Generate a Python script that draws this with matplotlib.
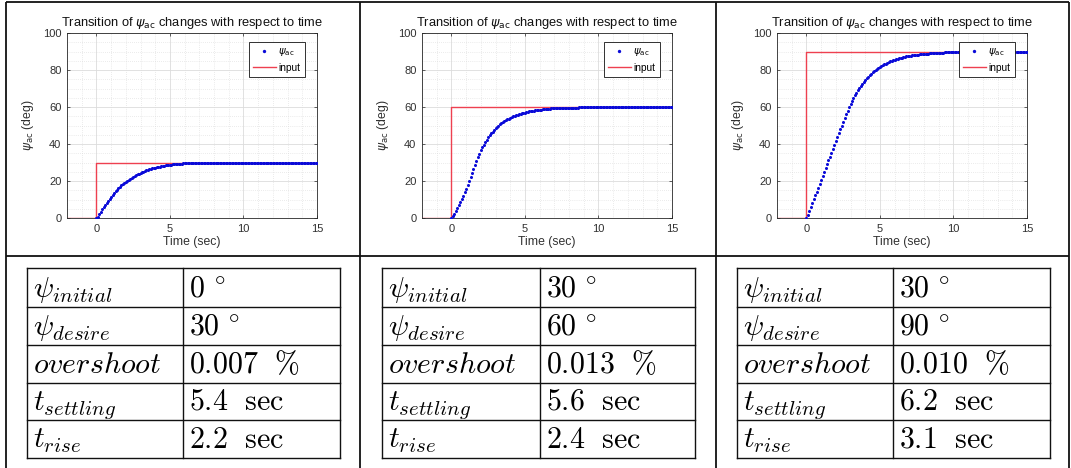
import numpy as np
import matplotlib
matplotlib.use("Agg")
import matplotlib.pyplot as plt

# ---------------- data ----------------
sample_step = 0.1  # s, response samples start at t = 0
input_time = [-2, 0, 0, 15]

psi_ac_1 = [0.0, 0.8, 2.0, 3.3, 4.6, 5.9, 7.1, 8.3, 9.4, 10.5,
            11.6, 12.6, 13.5, 14.4, 15.3, 16.1, 16.9, 17.6, 18.3, 19.0,
            19.6, 20.2, 20.8, 21.3, 21.8, 22.3, 22.8, 23.2, 23.6, 24.0,
            24.4, 24.8, 25.1, 25.4, 25.7, 26.0, 26.3, 26.5, 26.8, 27.0,
            27.2, 27.4, 27.6, 27.8, 28.0, 28.1, 28.3, 28.4, 28.5, 28.7,
            28.8, 28.9, 29.0, 29.1, 29.2, 29.2, 29.3, 29.4, 29.4, 29.5,
            29.5, 29.6, 29.6, 29.7, 29.7, 29.7, 29.8, 29.8, 29.8, 29.8,
            29.9, 29.9, 29.9, 29.9, 29.9, 29.9, 29.9, 29.9, 29.9, 29.9,
            29.9, 29.9, 29.9, 29.9, 29.9, 29.9, 29.9, 29.9, 29.9, 29.9,
            29.9, 29.9, 29.9, 29.9, 29.9, 30.0, 30.0, 30.0, 30.0, 30.0,
            30.0, 30.0, 30.0, 30.0, 30.0, 30.0, 30.0, 30.0, 30.0, 30.0,
            30.0, 30.0, 30.0, 30.0, 30.0, 30.0, 30.0, 30.0, 30.0, 30.0,
            30.0, 30.0, 30.0, 30.0, 30.0, 30.0, 30.0, 30.0, 30.0, 30.0,
            30.0, 30.0, 30.0, 30.0, 30.0, 30.0, 30.0, 30.0, 30.0, 30.0,
            30.0, 30.0, 30.0, 30.0, 30.0, 30.0, 30.0, 30.0, 30.0, 30.0,
            30.0]

psi_ac_2 = [0.0, 1.0, 2.3, 3.7, 5.2, 6.8, 8.5, 10.2, 12.0, 13.9,
            15.8, 17.9, 20.0, 22.2, 24.4, 26.6, 28.8, 30.9, 32.9, 34.8,
            36.6, 38.2, 39.7, 41.1, 42.4, 43.6, 44.7, 45.7, 46.7, 47.6,
            48.4, 49.2, 49.9, 50.6, 51.2, 51.8, 52.3, 52.8, 53.3, 53.7,
            54.1, 54.5, 54.9, 55.2, 55.5, 55.8, 56.1, 56.3, 56.6, 56.8,
            57.0, 57.2, 57.4, 57.6, 57.7, 57.9, 58.0, 58.2, 58.3, 58.4,
            58.5, 58.6, 58.7, 58.8, 58.9, 59.0, 59.0, 59.1, 59.2, 59.2,
            59.3, 59.3, 59.4, 59.4, 59.4, 59.5, 59.5, 59.5, 59.6, 59.6,
            59.6, 59.6, 59.7, 59.7, 59.7, 59.7, 59.7, 59.8, 59.8, 59.8,
            59.8, 59.8, 59.8, 59.8, 59.9, 59.9, 59.9, 59.9, 59.9, 59.9,
            59.9, 59.9, 59.9, 59.9, 59.9, 59.9, 59.9, 59.9, 59.9, 59.9,
            60.0, 60.0, 60.0, 60.0, 60.0, 60.0, 60.0, 60.0, 60.0, 60.0,
            60.0, 60.0, 60.0, 60.0, 60.0, 60.0, 60.0, 60.0, 60.0, 60.0,
            60.0, 60.0, 60.0, 60.0, 60.0, 60.0, 60.0, 60.0, 60.0, 60.0,
            60.0, 60.0, 60.0, 60.0, 60.0, 60.0, 60.0, 60.0, 60.0, 60.0,
            60.0]

psi_ac_3 = [0.0, 1.8, 3.8, 5.9, 8.0, 10.1, 12.2, 14.3, 16.4, 18.5,
            20.6, 22.7, 24.8, 26.9, 29.0, 31.1, 33.2, 35.3, 37.4, 39.5,
            41.6, 43.7, 45.8, 47.9, 50.0, 52.0, 54.0, 56.0, 57.9, 59.8,
            61.6, 63.3, 64.9, 66.4, 67.8, 69.1, 70.3, 71.5, 72.6, 73.6,
            74.6, 75.5, 76.4, 77.2, 78.0, 78.7, 79.4, 80.0, 80.6, 81.2,
            81.7, 82.2, 82.7, 83.1, 83.5, 83.9, 84.3, 84.6, 84.9, 85.2,
            85.5, 85.8, 86.0, 86.3, 86.5, 86.7, 86.9, 87.1, 87.3, 87.4,
            87.6, 87.7, 87.9, 88.0, 88.1, 88.2, 88.3, 88.4, 88.5, 88.6,
            88.7, 88.8, 88.9, 88.9, 89.0, 89.1, 89.1, 89.2, 89.2, 89.3,
            89.3, 89.4, 89.4, 89.4, 89.5, 89.5, 89.5, 89.6, 89.6, 89.6,
            89.6, 89.7, 89.7, 89.7, 89.7, 89.7, 89.8, 89.8, 89.8, 89.8,
            89.8, 89.8, 89.8, 89.9, 89.9, 89.9, 89.9, 89.9, 89.9, 89.9,
            89.9, 89.9, 89.9, 89.9, 89.9, 89.9, 89.9, 89.9, 89.9, 89.9,
            90.0, 90.0, 90.0, 90.0, 90.0, 90.0, 90.0, 90.0, 90.0, 90.0,
            90.0, 90.0, 90.0, 90.0, 90.0, 90.0, 90.0, 90.0, 90.0, 90.0,
            90.0]

responses = [psi_ac_1, psi_ac_2, psi_ac_3]

# table contents
row_labels = [r'$\psi_{initial}$', r'$\psi_{desire}$', r'$overshoot$',
              r'$t_{settling}$', r'$t_{rise}$']
psi_initial = [0, 30, 30]
psi_desire = [30, 60, 90]
overshoot = ['0.007', '0.013', '0.010']
t_settling = ['5.4', '5.6', '6.2']
t_rise = ['2.2', '2.4', '3.1']

x_ticks = [0, 5, 10, 15]
y_ticks = [0, 20, 40, 60, 80, 100]

# ---------------- figure ----------------
W, H = 1071, 468
fig = plt.figure(figsize=(W / 100, H / 100), dpi=100)
fig.patch.set_facecolor('white')

SANS = ['Liberation Sans', 'DejaVu Sans']
AX_COL = '#262626'
TXT_COL = '#303030'

def fx(px):
    return px / W

def fy(py):
    return 1 - py / H

panel_left = [67, 422, 777]
ax_w, ax_top, ax_bot = 250, 33, 218

for i in range(3):
    L = panel_left[i]
    ax = fig.add_axes([fx(L), fy(ax_bot), ax_w / W, (ax_bot - ax_top) / H])
    d = psi_desire[i]
    vals = np.array(responses[i])
    t = np.arange(len(vals)) * sample_step
    ax.plot(t, vals, linestyle='none', marker='o', color='#0a0ad8',
            markersize=2.2, markeredgewidth=0, zorder=3,
            label=r'$\psi_{\rm ac}$')
    ax.plot(input_time, [0, 0, d, d], color='#ee4050', lw=1.0, zorder=2,
            label='input')
    ax.set_xlim(-2, 15)
    ax.set_ylim(0, 100)
    ax.set_xticks(x_ticks)
    ax.set_yticks(y_ticks)
    ax.set_xticks(np.arange(-2, 16, 1), minor=True)
    ax.set_yticks(np.arange(0, 101, 5), minor=True)
    ax.grid(True, which='major', color='#dcdcdc', lw=0.6, zorder=0)
    ax.grid(True, which='minor', color='#d8d8d8', lw=0.5, ls=(0, (1, 2)), zorder=0)
    ax.set_axisbelow(True)
    for s in ax.spines.values():
        s.set_color(AX_COL)
        s.set_linewidth(0.6)
    ax.tick_params(which='both', direction='in', top=True, right=True,
                   colors=AX_COL, labelcolor=TXT_COL, labelsize=8,
                   width=0.5)
    ax.tick_params(which='major', length=2.5, pad=4)
    ax.tick_params(which='minor', length=0)
    for lab in ax.get_xticklabels() + ax.get_yticklabels():
        lab.set_family(SANS)
    ax.set_title(r'Transition of $\psi_{\rm ac}$ changes with respect to time',
                 fontsize=9.3, family=SANS, color='#111111', pad=5,
                 math_fontfamily='dejavusans')
    ax.set_xlabel('Time (sec)', fontsize=8.8, family=SANS, color=TXT_COL,
                  labelpad=2)
    ax.set_ylabel(r'$\psi_{\rm ac}$ (deg)', fontsize=8.8, family=SANS,
                  color=TXT_COL, labelpad=5)
    ax.yaxis.label.set_math_fontfamily('dejavusans')
    leg = ax.legend(loc='upper right', bbox_to_anchor=(0.95, 0.95),
                    frameon=True, fancybox=False,
                    edgecolor='#111111', framealpha=1, numpoints=1,
                    handlelength=2.3, handletextpad=0.25, borderpad=0.4,
                    labelspacing=0.45, borderaxespad=0.0, markerscale=1.1,
                    prop={'family': SANS, 'size': 7.3})
    leg.get_frame().set_linewidth(0.6)

# ---------------- overlay for frames and tables ----------------
ov = fig.add_axes([0, 0, 1, 1], zorder=10)
ov.set_xlim(0, W)
ov.set_ylim(H, 0)
ov.axis('off')
ov.patch.set_alpha(0)

frame_kw = dict(color='#111111', lw=1.3, solid_capstyle='butt')
for x in [6, 360, 716, 1069]:
    ov.plot([x, x], [2, H + 5], **frame_kw)
ov.plot([6, 1069], [2, 2], **frame_kw)
ov.plot([6, 1069], [256, 256], **frame_kw)

table_left = [27, 382, 737]
table_split = [183, 540, 893]
table_right = [340, 695, 1050]
row_edges = [268, 307, 345, 383, 420, 458]

tab_kw = dict(color='#111111', lw=1.0, solid_capstyle='projecting')
for i in range(3):
    l, s, r = table_left[i], table_split[i], table_right[i]
    for y in row_edges:
        ov.plot([l, r], [y, y], **tab_kw)
    for x in [l, s, r]:
        ov.plot([x, x], [row_edges[0], row_edges[-1]], **tab_kw)
    values = [rf'$%d\ ^{{\circ}}$' % psi_initial[i],
              rf'$%d\ ^{{\circ}}$' % psi_desire[i],
              rf'$%s\ \ \%%$' % overshoot[i],
              rf'$%s\ \ \mathrm{{sec}}$' % t_settling[i],
              rf'$%s\ \ \mathrm{{sec}}$' % t_rise[i]]
    for k in range(5):
        base = row_edges[k + 1] - 10
        ov.text(l + 6, base, row_labels[k], fontsize=21.5, va='baseline',
                ha='left', math_fontfamily='cm', color='black')
        ov.text(s + 6, base, values[k], fontsize=21.5, va='baseline',
                ha='left', math_fontfamily='cm', color='black')

fig.savefig('out.png', dpi=100)
